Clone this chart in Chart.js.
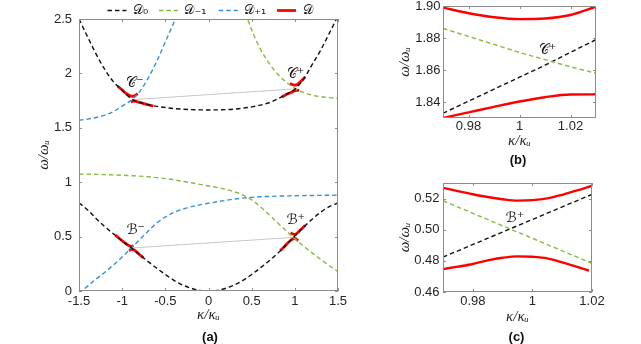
<!DOCTYPE html>
<html>
<head>
<meta charset="utf-8">
<script src="https://cdn.jsdelivr.net/npm/chart.js@4.4.1/dist/chart.umd.min.js"></script>
<style>
    html, body { margin: 0; padding: 0; background: #fff; }
    body { width: 641px; height: 344px; position: relative; overflow: hidden; }
    .panel { position: absolute; }
    #wrapA { left: 0; top: 0; width: 420px; height: 344px; }
    #wrapB { left: 395px; top: 0; width: 246px; height: 172px; }
    #wrapC { left: 392px; top: 172px; width: 249px; height: 172px; }
</style>
</head>
<body>
<div class="panel" id="wrapA"><canvas id="chartA"></canvas></div>
<div class="panel" id="wrapB"><canvas id="chartB"></canvas></div>
<div class="panel" id="wrapC"><canvas id="chartC"></canvas></div>
<script>
// ---- panel (a): full dispersion curves ----
const kappa = [-1.5, -1.4, -1.3, -1.2, -1.1, -1.0, -0.9, -0.8, -0.7, -0.6, -0.5, -0.4, -0.3, -0.2, -0.1, 0,
    0.1, 0.2, 0.3, 0.4, 0.5, 0.6, 0.7, 0.8, 0.9, 1.0, 1.1, 1.2, 1.3, 1.4, 1.5];
const d0Lower = [0.81, 0.745, 0.665, 0.59, 0.525, 0.46, 0.40, 0.335, 0.27, 0.21, 0.152, 0.098, 0.055, 0.025, 0.006, 0,
    0.006, 0.025, 0.055, 0.098, 0.152, 0.212, 0.275, 0.345, 0.425, 0.505, 0.585, 0.66, 0.725, 0.775, 0.81];
const d0Upper = [2.50, 2.335, 2.175, 2.035, 1.922, 1.845, 1.77, 1.735, 1.712, 1.697, 1.686, 1.677, 1.671, 1.667, 1.665, 1.664,
    1.665, 1.667, 1.672, 1.68, 1.692, 1.708, 1.73, 1.765, 1.808, 1.855, 1.945, 2.08, 2.215, 2.37, 2.53];
const dPlusLower = [-0.02, 0.045, 0.11, 0.172, 0.24, 0.312, 0.39, 0.47, 0.55, 0.625, 0.68, 0.722, 0.752, 0.775, 0.792, 0.806,
    0.82, 0.833, 0.845, 0.854, 0.861, 0.866, 0.869, 0.872, 0.874, 0.876, 0.877, 0.878, 0.879, 0.88, 0.881];
const dPlusUpper = [1.57, 1.58, 1.595, 1.617, 1.65, 1.70, 1.75, 1.83, 1.955, 2.11, 2.29, 2.47, 2.66,
    null, null, null, null, null, null, null, null, null, null, null, null, null, null, null, null, null, null];
const dMinusLower = [1.075, 1.074, 1.072, 1.07, 1.067, 1.064, 1.06, 1.056, 1.05, 1.042, 1.033, 1.022, 1.008, 0.995, 0.98, 0.965,
    0.952, 0.935, 0.912, 0.882, 0.838, 0.775, 0.703, 0.628, 0.553, 0.48, 0.413, 0.35, 0.29, 0.232, 0.178];
const dMinusUpper = [null, null, null, null, null, null, null, null, null, null, null, null, null, null, null, null,
    null, null, null, 2.62, 2.40, 2.225, 2.095, 1.995, 1.92, 1.862, 1.825, 1.80, 1.786, 1.777, 1.771];

// red branches of D around the four crossings
const cmUpK = [-1.05, -1.0, -0.95, -0.91, -0.88, -0.85, -0.82];
const cmUpW = [1.882, 1.847, 1.813, 1.795, 1.79, 1.797, 1.815];
const cmLoK = [-0.9, -0.87, -0.84, -0.8, -0.75, -0.7, -0.64];
const cmLoW = [1.738, 1.745, 1.742, 1.733, 1.722, 1.712, 1.70];
const cpUpK = [0.94, 0.97, 1.0, 1.02, 1.03, 1.06, 1.09, 1.12];
const cpUpW = [1.905, 1.899, 1.892, 1.894, 1.8995, 1.92, 1.943, 1.967];
const cpLoK = [0.85, 0.9, 0.95, 0.97, 1.0, 1.02, 1.03, 1.05];
const cpLoW = [1.782, 1.805, 1.823, 1.83, 1.84, 1.845, 1.845, 1.843];
const bmUpK = [-1.08, -1.0, -0.95, -0.91, -0.89, -0.87];
const bmUpW = [0.514, 0.462, 0.432, 0.413, 0.41, 0.418];
const bmLoK = [-0.92, -0.9, -0.88, -0.85, -0.8, -0.755];
const bmLoW = [0.37, 0.38, 0.382, 0.37, 0.336, 0.306];
const bpUpK = [0.95, 0.97, 0.99, 1.0, 1.02, 1.05, 1.08, 1.12];
const bpUpW = [0.534, 0.527, 0.52, 0.519, 0.528, 0.55, 0.573, 0.603];
const bpLoK = [0.83, 0.87, 0.91, 0.95, 0.97, 0.99, 1.0, 1.02, 1.04];
const bpLoW = [0.37, 0.401, 0.434, 0.464, 0.475, 0.482, 0.483, 0.474, 0.462];

// grey links between the crossing points
const cLinkK = [-0.885, 1.005];
const cLinkW = [1.758, 1.858];
const bLinkK = [-0.893, 0.984];
const bLinkW = [0.395, 0.493];

const xTicksA = [-1.5, -1, -0.5, 0, 0.5, 1, 1.5];
const yTicksA = [0, 0.5, 1, 1.5, 2, 2.5];
const labelTextA = ['𝒞⁻', '𝒞⁺', 'ℬ⁻', 'ℬ⁺'];
const labelKA = [-0.851, 1.01, -0.843, 1.01];
const labelWA = [1.909, 1.992, 0.554, 0.653];

// ---- panel (b): zoom on C+ ----
const bK = [0.97, 0.98, 0.99, 1.0, 1.01, 1.02, 1.03];
const bUpperW = [1.899, 1.8955, 1.893, 1.8918, 1.8922, 1.8944, 1.8996];
const bLowerW = [1.830, 1.8335, 1.837, 1.8403, 1.843, 1.8447, 1.8448];
const bD0W = [1.833, 1.8405, 1.848, 1.8555, 1.863, 1.871, 1.879];
const bDm1W = [1.886, 1.881, 1.876, 1.871, 1.8665, 1.862, 1.858];
const xTicksB = [0.98, 1, 1.02];
const yTicksB = [1.84, 1.86, 1.88, 1.90];

// ---- panel (c): zoom on B+ ----
const cK = [0.97, 0.975, 0.98, 0.985, 0.99, 0.995, 1.0, 1.005, 1.01, 1.015, 1.02];
const cUpperW = [0.5269, 0.5248, 0.5228, 0.521, 0.5196, 0.5187, 0.519, 0.5201, 0.5224, 0.5252, 0.5283];
const cLowerK = [0.97, 0.975, 0.98, 0.985, 0.99, 0.995, 1.0, 1.005, 1.01, 1.015, 1.019];
const cLowerW = [0.4747, 0.4763, 0.478, 0.4803, 0.482, 0.4829, 0.4826, 0.4816, 0.479, 0.4762, 0.4737];
const cLineK = [0.97, 1.02];
const cD0W = [0.4824, 0.5227];
const cDm1W = [0.5186, 0.4784];
const xTicksC = [0.98, 1, 1.02];
const yTicksC = [0.46, 0.48, 0.50, 0.52];

const BLACK = '#111111';
const GREEN = '#88bb3f';
const BLUE = '#3490da';
const RED = '#ff0000';
const TEXT = '#262626';
const tickFont = { family: 'Liberation Sans, Arial, sans-serif', size: 13 };
const mathFont = { family: 'Liberation Serif, serif', size: 15, style: 'italic', lineHeight: 1 };
const panelFont = { family: 'Liberation Sans, Arial, sans-serif', size: 13, weight: 'bold', lineHeight: 1 };

function pts(xs, ys) {
    return xs.map((x, i) => ({ x: x, y: ys[i] })).filter(p => p.y !== null);
}

function dashed(label, color, xs, ys) {
    return {
        label: label, data: pts(xs, ys), borderColor: color, backgroundColor: color,
        borderWidth: 1.4, borderDash: [4.5, 3], pointRadius: 0, pointStyle: 'line',
        cubicInterpolationMode: 'monotone', order: 0
    };
}

function solid(label, xs, ys, width) {
    return {
        label: label, data: pts(xs, ys), borderColor: RED, backgroundColor: RED,
        borderWidth: width, pointRadius: 0, pointStyle: 'line',
        cubicInterpolationMode: 'monotone', order: 1
    };
}

function link(xs, ys) {
    return { label: '', data: pts(xs, ys), borderColor: '#c8c8c8', borderWidth: 1, pointRadius: 0, order: 2 };
}

// grey box with inward tick marks on all four sides
const boxTicks = {
    id: 'boxTicks',
    afterDatasetsDraw(chart) {
        const { ctx, chartArea: a, scales: { x, y } } = chart;
        ctx.save();
        ctx.strokeStyle = '#8c8c8c';
        ctx.lineWidth = 1;
        ctx.strokeRect(Math.round(a.left) + 0.5, Math.round(a.top) + 0.5,
            Math.round(a.right - a.left) - 1, Math.round(a.bottom - a.top) - 1);
        ctx.beginPath();
        x.ticks.forEach(t => {
            const px = Math.round(x.getPixelForValue(t.value)) + 0.5;
            ctx.moveTo(px, a.bottom); ctx.lineTo(px, a.bottom - 3);
            ctx.moveTo(px, a.top); ctx.lineTo(px, a.top + 3);
        });
        y.ticks.forEach(t => {
            const py = Math.round(y.getPixelForValue(t.value)) + 0.5;
            ctx.moveTo(a.left, py); ctx.lineTo(a.left + 3, py);
            ctx.moveTo(a.right, py); ctx.lineTo(a.right - 3, py);
        });
        ctx.stroke();
        ctx.restore();
    }
};

// crossing labels written at data coordinates
const crossLabels = {
    id: 'crossLabels',
    afterDatasetsDraw(chart, args, opts) {
        if (!opts.text) return;
        const { ctx, scales: { x, y } } = chart;
        ctx.save();
        ctx.font = '14px DejaVu Sans, serif';
        ctx.fillStyle = '#111';
        ctx.textAlign = 'center';
        ctx.textBaseline = 'middle';
        opts.text.forEach((t, i) => {
            ctx.fillText(t, x.getPixelForValue(opts.k[i]), y.getPixelForValue(opts.w[i]));
        });
        ctx.restore();
    }
};

function axes(cfg) {
    return {
        x: {
            type: 'linear', min: cfg.xMin, max: cfg.xMax,
            afterBuildTicks: s => { s.ticks = cfg.xTicks.map(v => ({ value: v })); },
            afterFit: s => { s.height = cfg.xHeight; s.paddingLeft = 0; s.paddingRight = 0; },
            grid: { display: false, drawTicks: false }, border: { display: false },
            ticks: { font: tickFont, color: TEXT, padding: cfg.xPad, autoSkip: false, maxRotation: 0, callback: v => String(v) },
            title: { display: true, text: 'κ/κᵤ', font: mathFont, color: TEXT, padding: { top: 0, bottom: cfg.xTitlePad } }
        },
        y: {
            min: cfg.yMin, max: cfg.yMax,
            afterBuildTicks: s => { s.ticks = cfg.yTicks.map(v => ({ value: v })); },
            afterFit: s => { s.width = cfg.yWidth; s.paddingTop = 0; s.paddingBottom = 0; },
            grid: { display: false, drawTicks: false }, border: { display: false },
            ticks: { font: tickFont, color: TEXT, padding: cfg.yPad, autoSkip: false, callback: cfg.yFormat },
            title: { display: true, text: 'ω/ωᵤ', font: mathFont, color: TEXT, padding: { top: cfg.yTitlePad, bottom: 0 } }
        },
        // empty right-hand axis, only reserves room so the legend and panel label sit centred
        yRight: {
            type: 'linear', position: 'right', display: true,
            afterFit: s => { s.width = cfg.rightWidth; s.paddingTop = 0; s.paddingBottom = 0; },
            grid: { display: false, drawTicks: false }, border: { display: false },
            ticks: { display: false }
        }
    };
}

function baseOptions(cfg) {
    return {
        responsive: true,
        maintainAspectRatio: false,
        animation: false,
        devicePixelRatio: 1,
        layout: { padding: { left: 0, right: 0, top: cfg.top, bottom: 0 } },
        scales: axes(cfg),
        plugins: {
            legend: { display: false },
            tooltip: { enabled: false },
            title: {
                display: true, text: cfg.panel, position: 'bottom', font: panelFont, color: '#111',
                padding: { top: 0, bottom: cfg.panelPad }
            },
            crossLabels: cfg.labels || {}
        }
    };
}

// legend items keep the dash pattern and width of their line
function dashedLegendLabels(chart) {
    return Chart.defaults.plugins.legend.labels.generateLabels(chart).map(item => {
        const ds = chart.data.datasets[item.datasetIndex];
        item.lineDash = ds.borderDash || [];
        item.lineWidth = ds.borderWidth;
        item.strokeStyle = ds.borderColor;
        return item;
    });
}

// ---- chart (a) ----
const optsA = baseOptions({
    xMin: -1.5, xMax: 1.5, yMin: 0, yMax: 2.5, xTicks: xTicksA, yTicks: yTicksA,
    xHeight: 40, xPad: 3, xTitlePad: 8.5, yWidth: 79, yPad: 7, yTitlePad: 37,
    rightWidth: 82, top: 0,
    yFormat: v => String(v), panel: '(a)', panelPad: 0,
    labels: { text: labelTextA, k: labelKA, w: labelWA }
});
optsA.plugins.legend = {
    display: true, position: 'top', align: 'center', maxHeight: 19,
    labels: {
        usePointStyle: true, pointStyleWidth: 19, padding: 4, color: '#111',
        font: { family: 'DejaVu Sans, sans-serif', size: 13 },
        generateLabels: dashedLegendLabels,
        filter: item => item.text !== '',
        sort: (a, b) => a.datasetIndex - b.datasetIndex
    }
};

new Chart(document.getElementById('chartA'), {
    type: 'line',
    data: {
        datasets: [
            dashed('𝒟₀ \u2009', BLACK, kappa, d0Upper),
            dashed('𝒟₋₁  ', GREEN, kappa, dMinusUpper),
            dashed('𝒟₊₁ \u2009', BLUE, kappa, dPlusUpper),
            solid('𝒟', cmUpK, cmUpW, 2.8),
            solid('', cmLoK, cmLoW, 2.8),
            solid('', cpUpK, cpUpW, 2.8),
            solid('', cpLoK, cpLoW, 2.8),
            solid('', bmUpK, bmUpW, 2.8),
            solid('', bmLoK, bmLoW, 2.8),
            solid('', bpUpK, bpUpW, 2.8),
            solid('', bpLoK, bpLoW, 2.8),
            dashed('', BLACK, kappa, d0Lower),
            dashed('', GREEN, kappa, dMinusLower),
            dashed('', BLUE, kappa, dPlusLower),
            link(cLinkK, cLinkW),
            link(bLinkK, bLinkW)
        ]
    },
    options: optsA,
    plugins: [boxTicks, crossLabels]
});

// ---- chart (b) ----
new Chart(document.getElementById('chartB'), {
    type: 'line',
    data: {
        datasets: [
            solid('', bK, bUpperW, 2.4),
            solid('', bK, bLowerW, 2.4),
            dashed('', GREEN, bK, bDm1W),
            dashed('', BLACK, bK, bD0W)
        ]
    },
    options: baseOptions({
        xMin: 0.97, xMax: 1.03, yMin: 1.83, yMax: 1.90, xTicks: xTicksB, yTicks: yTicksB,
        xHeight: 35.5, xPad: 1, xTitlePad: 5.3, yWidth: 48, yPad: 2.5, yTitlePad: 2.5,
        rightWidth: 45, top: 6,
        yFormat: v => v.toFixed(2), panel: '(b)', panelPad: 5.5,
        labels: { text: ['𝒞⁺'], k: [1.011], w: [1.8724] }
    }),
    plugins: [boxTicks, crossLabels]
});

// ---- chart (c) ----
new Chart(document.getElementById('chartC'), {
    type: 'line',
    data: {
        datasets: [
            solid('', cK, cUpperW, 2.4),
            solid('', cLowerK, cLowerW, 2.4),
            dashed('', GREEN, cLineK, cDm1W),
            dashed('', BLACK, cLineK, cD0W)
        ]
    },
    options: baseOptions({
        xMin: 0.97, xMax: 1.02, yMin: 0.46, yMax: 0.53, xTicks: xTicksC, yTicks: yTicksC,
        xHeight: 39, xPad: 2, xTitlePad: 6.2, yWidth: 51, yPad: 3.5, yTitlePad: 5.5,
        rightWidth: 49, top: 11,
        yFormat: v => v.toFixed(2), panel: '(c)', panelPad: 0,
        labels: { text: ['ℬ⁺'], k: [0.9941], w: [0.507] }
    }),
    plugins: [boxTicks, crossLabels]
});
</script>
</body>
</html>
